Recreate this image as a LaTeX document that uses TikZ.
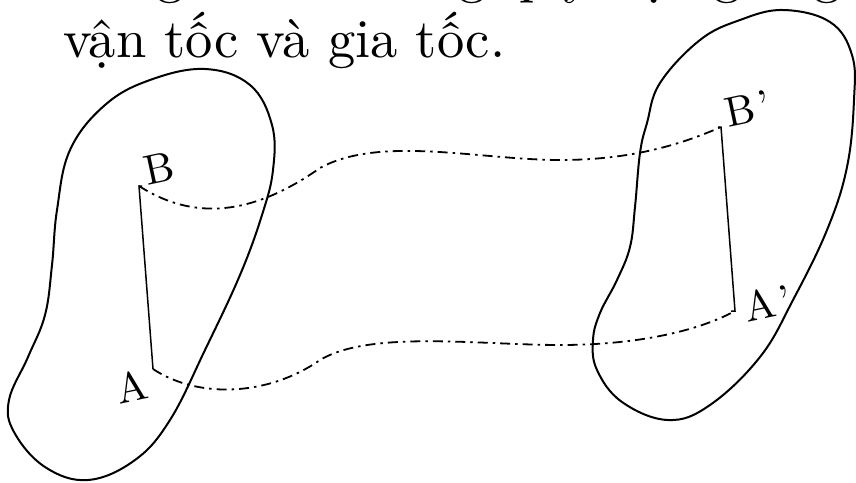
\documentclass[tikz,border=0pt]{standalone}
\usepackage{tikz}
\usetikzlibrary{arrows.meta}

\begin{document}
\begin{tikzpicture}[x=1pt, y=-1pt,
        blob/.style={line width=2pt, smooth cycle, tension=0.65},
        seg/.style={line width=1.5pt, line join=miter},
        path/.style={line width=1.8pt, dash pattern=on 10pt off 5pt on 2.5pt off 5pt},
        txt/.style={anchor=base west, inner sep=0pt},
        lbl/.style={rotate=12, inner sep=0pt}]

        \useasboundingbox (0,0) rectangle (856,482);

        % text above the figure (first line cut by the page edge)
        \node (line1) [txt] at (44,-8) {\scalebox{5.45}{chúng đều có cùng quỹ đạo giống}};
        \node (line2) [txt] at (63,57) {\scalebox{5.45}{vận tốc và gia tốc.}};

        % the two positions of the body
        \draw [blob] plot coordinates {(205,69) (250,85) (272,125) (273,170) (262,215) (240,275) (205,350) (170,420) (135,460) (88,480) (45,467) (14,432) (9,400) (28,357) (45,315) (52,265) (57,210) (70,150) (105,105) (150,80)};
        \draw [blob] plot coordinates {(783,10) (830,22) (852,55) (854,100) (847,167) (827,230) (793,300) (760,357) (710,405) (668,420) (622,402) (597,370) (593,340) (600,313) (617,280) (630,247) (635,207) (640,153) (647,123) (660,83) (700,40) (740,20)};

        \coordinate (pB) at (139,186);
        \coordinate (pA) at (153,369);
        \coordinate (pBp) at (721,127);
        \coordinate (pAp) at (735,311);

        \node (B) [lbl] at (159,168) {\scalebox{4.2}{B}};
        \node (A) [lbl] at (132,387) {\scalebox{4.2}{A}};
        \node (Bp) [lbl] at (748,109) {\scalebox{4.2}{B\kern1pt’}};
        \node (Ap) [lbl] at (768,303) {\scalebox{4.2}{A\kern1pt’}};

        \draw [seg] ([xshift=3pt]pB) -- (pB) -- (pA);
        \draw [seg] ([xshift=-3pt]pBp) -- (pBp) -- (pAp) -- ([xshift=-4pt]pAp);

        % trajectories of A and B
        \draw [path] (pB) .. controls (200,225) and (260,210) .. (320,168)
            .. controls (380,135) and (480,160) .. (560,160)
            .. controls (630,160) and (680,145) .. (pBp);
        \draw [path] (pA) .. controls (200,400) and (270,395) .. (320,360)
            .. controls (370,330) and (480,345) .. (560,345)
            .. controls (640,345) and (700,330) .. (pAp);
    \end{tikzpicture}
\end{document}
